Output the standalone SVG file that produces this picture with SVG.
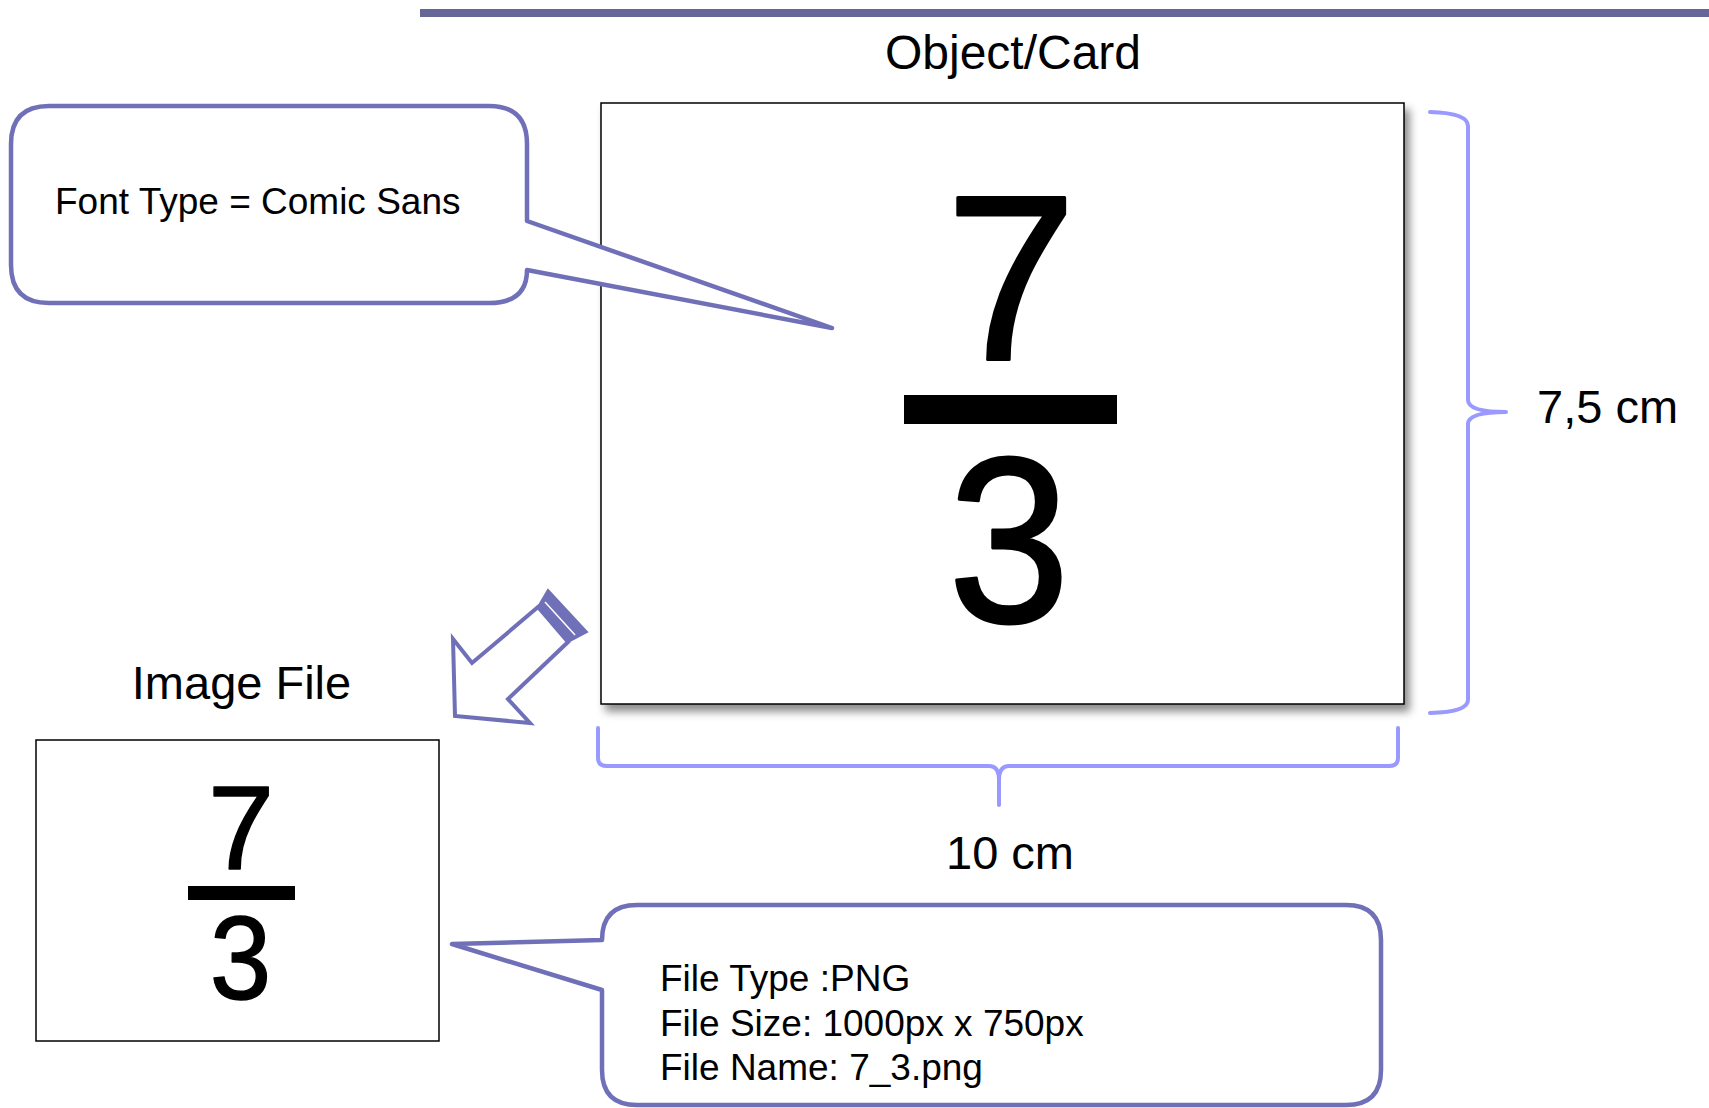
<svg xmlns="http://www.w3.org/2000/svg" width="1709" height="1108" viewBox="0 0 1709 1108">
<style>
.lbl{font-family:"Liberation Sans",Arial,sans-serif;fill:#000}
.big{font-size:47px}
.note{font-size:37px}
.bubble{fill:#fff;stroke:#7070b8;stroke-width:4.5;stroke-linejoin:round}
.brace{fill:none;stroke:#9999ff;stroke-width:4;stroke-linecap:round;stroke-linejoin:round}
.digit{font-family:"Liberation Sans",Arial,sans-serif;fill:#000;stroke:#000;stroke-linejoin:round;text-anchor:middle}
</style>
<defs>
<filter id="shadow" x="-5%" y="-5%" width="115%" height="115%">
<feDropShadow dx="5" dy="7" stdDeviation="4" flood-color="#000" flood-opacity="0.45"/>
</filter>
</defs>
<rect x="0" y="0" width="1709" height="1108" fill="#fff"/>
<rect x="420" y="9" width="1289" height="8" fill="#666699"/>

<g id="title-card"><text class="lbl" x="1013" y="69" font-size="48" text-anchor="middle">Object/Card</text></g>

<g id="card">
<rect x="601" y="103" width="803" height="601" fill="#fff" stroke="#000" stroke-width="1.5" filter="url(#shadow)"/>
<text class="digit" x="1011" y="360" font-size="235" stroke-width="3">7</text>
<rect x="904" y="395" width="213" height="29" fill="#000"/>
<text class="digit" x="1009" y="622" font-size="235" stroke-width="3" transform="translate(1009,0) scale(0.93,1) translate(-1009,0)">3</text>
</g>

<g id="font-callout">
<path class="bubble" d="M527,221 L832,328 L527,270 Q527,303 489,303 L49,303 Q11,303 11,265 L11,144 Q11,106 49,106 L489,106 Q527,106 527,144 Z"/>
<text class="lbl note" x="55" y="214">Font Type = Comic Sans</text>
</g>

<g id="height-brace">
<path class="brace" d="M1430,112 Q1468,113 1468,126 L1468,400 Q1468,412 1506,412 Q1468,412 1468,424 L1468,700 Q1468,712 1430,713"/>
<text class="lbl big" x="1537" y="423">7,5 cm</text>
</g>

<g id="width-brace">
<path class="brace" d="M598,728 L598,758 Q598,766 607,766 L989,766 Q999,766 999,780 L999,805 M999,780 Q999,766 1009,766 L1389,766 Q1398,766 1398,758 L1398,728"/>
<text class="lbl big" x="1010" y="869" text-anchor="middle">10 cm</text>
</g>

<g id="connectors">
<polygon points="538,607 472,663 453,639 455,716 530,723 508,699 568,642" fill="#fff" stroke="#7070b8" stroke-width="4" stroke-linejoin="miter"/>
<polygon points="548,590 587,632 568,642 538,607" fill="#7070b8" stroke="#7070b8" stroke-width="2" stroke-linejoin="miter"/>
<line x1="545" y1="602" x2="575" y2="635" stroke="#fff" stroke-width="1.5"/>
</g>

<g id="title-image"><text class="lbl big" x="241.5" y="699" text-anchor="middle">Image File</text></g>

<g id="image-file">
<rect x="36" y="740" width="403" height="301" fill="#fff" stroke="#000" stroke-width="1.5"/>
<text class="digit" x="241" y="869" font-size="119" stroke-width="1.5">7</text>
<rect x="188" y="886" width="107" height="14" fill="#000"/>
<text class="digit" x="240.5" y="999" font-size="119" stroke-width="1.5" transform="translate(240.5,0) scale(0.93,1) translate(-240.5,0)">3</text>
</g>

<g id="file-callout">
<path class="bubble" d="M602,940 Q602,905 637,905 L1346,905 Q1381,905 1381,940 L1381,1070 Q1381,1105 1346,1105 L637,1105 Q602,1105 602,1070 L602,990 L452,944 Z"/>
<text class="lbl note" x="660" y="991">File Type :PNG</text>
<text class="lbl note" x="660" y="1036">File Size: 1000px x 750px</text>
<text class="lbl note" x="660" y="1080">File Name: 7_3.png</text>
</g>
</svg>
